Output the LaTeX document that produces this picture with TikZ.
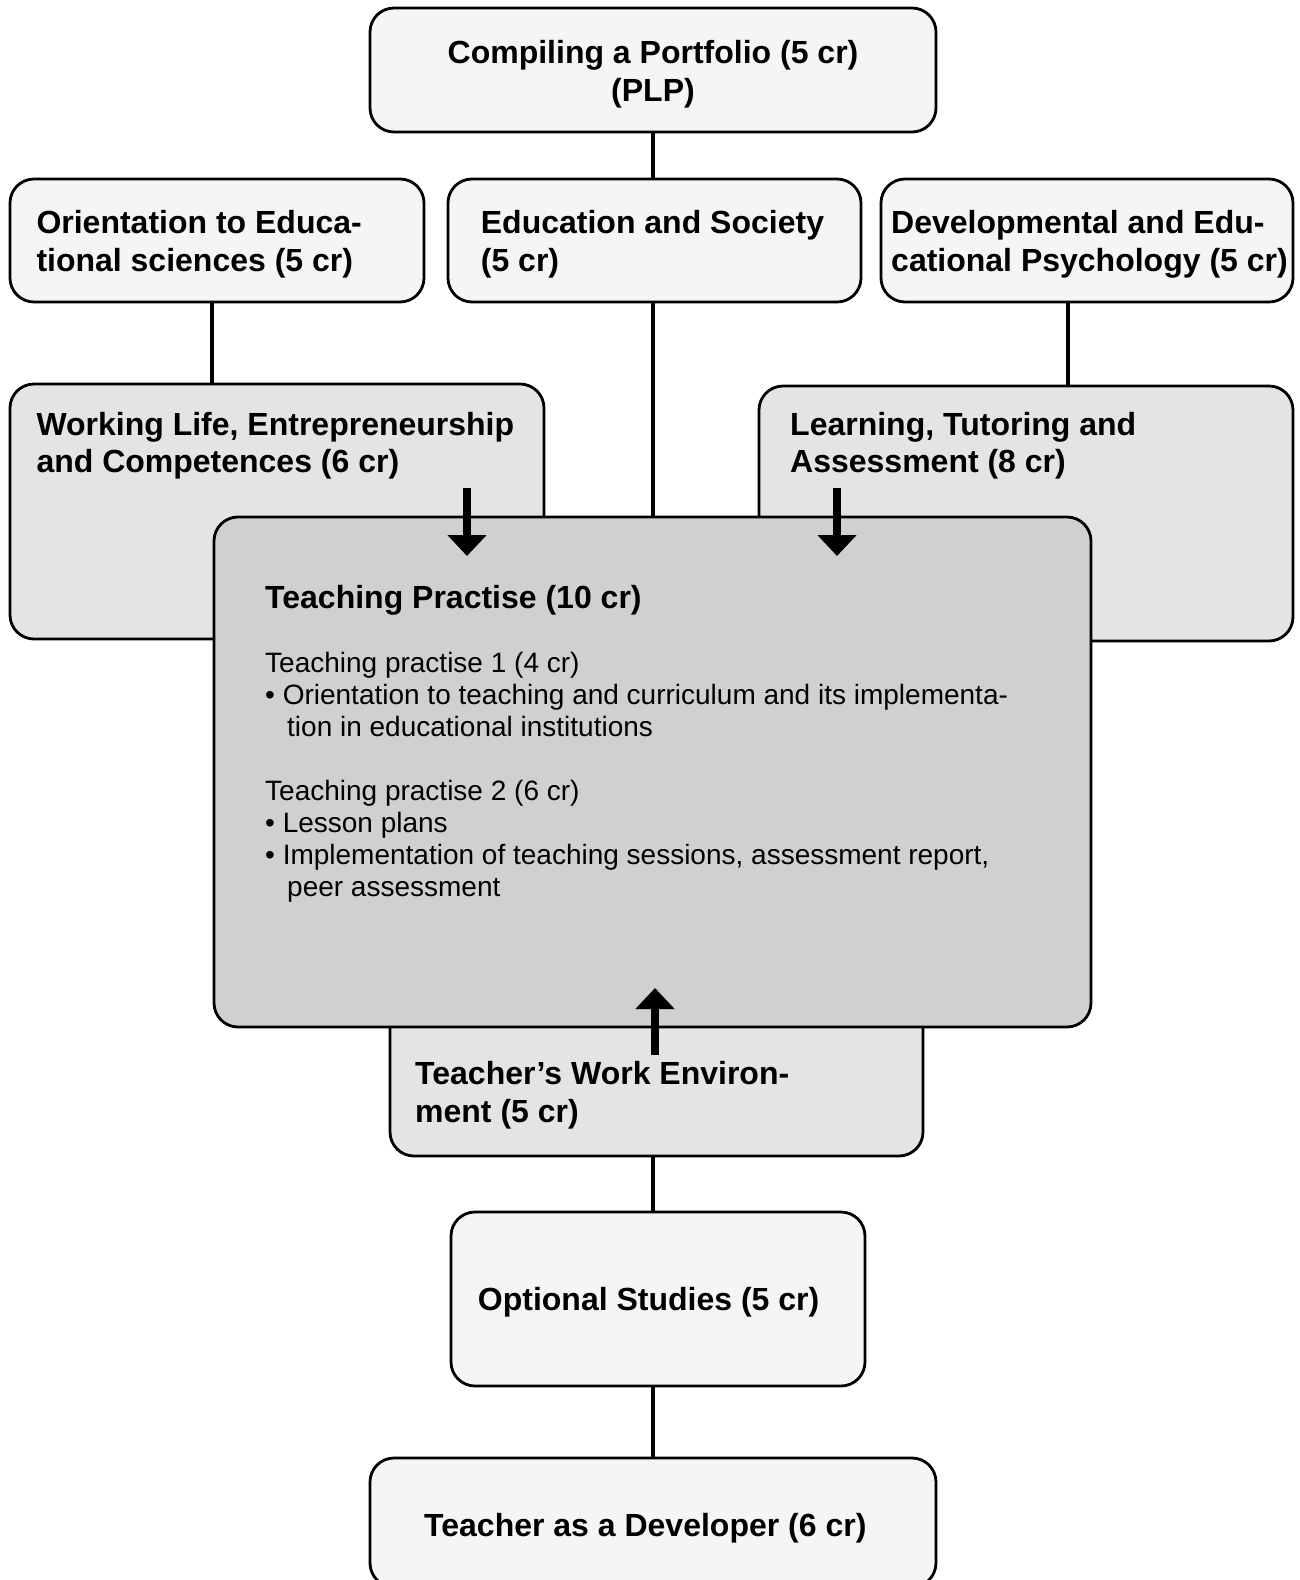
\documentclass[tikz,border=0pt]{standalone}
\usepackage{fontspec}
\setmainfont{Liberation Sans}
\usetikzlibrary{arrows.meta}
\definecolor{paleFill}{HTML}{F4F5F5}
\definecolor{midFill}{HTML}{E3E4E6}
\definecolor{coreFill}{HTML}{CFD0D2}

\begin{document}
\begin{tikzpicture}[x=1pt,y=-1pt,
  box/.style={draw=black, line width=2.8pt, rounded corners=24pt, inner sep=0pt, outer sep=0pt},
  course/.style={box, fill=paleFill},
  module/.style={box, fill=midFill},
  core/.style={box, fill=coreFill},
  link/.style={line width=4.5pt},
  flow/.style={line width=7.5pt, -{Triangle[width=38pt,length=21pt]}},
  headtxt/.style={anchor=base west, inner sep=0pt, font=\fontsize{32}{37}\selectfont\bfseries},
  headmid/.style={headtxt, anchor=base},
  bodytxt/.style={anchor=base west, inner sep=0pt, font=\fontsize{28}{32}\selectfont},
]
\useasboundingbox[fill=white] (0,0) rectangle (1300,1580);
\clip (0,0) rectangle (1300,1580);

% ---- upper row of courses
\node[course, minimum width=566pt, minimum height=124pt] (plp) at (653,70) {};
\node[course, minimum width=414pt, minimum height=123pt] (orient) at (217,240.5) {};
\node[course, minimum width=413pt, minimum height=123pt] (society) at (654.5,240.5) {};
\node[course, minimum width=412pt, minimum height=123pt] (devpsy) at (1087,240.5) {};

% ---- modules around the teaching practise
\node[module, minimum width=534pt, minimum height=255pt] (wl) at (277,511.5) {};
\node[module, minimum width=534pt, minimum height=255pt] (lta) at (1026,513.5) {};
\node[module, minimum width=533pt, minimum height=156pt] (twe) at (656.5,1078) {};

% ---- lower courses (the last one runs past the lower page edge)
\node[course, minimum width=414pt, minimum height=174pt] (opt) at (658,1299) {};
\node[course, minimum width=566pt, minimum height=129pt] (dev) at (653,1522.5) {};

% ---- connectors
\coordinate (tpjoin) at (653,517);
\draw[link] (plp.south) -- (plp.south |- society.north);
\draw[link] ([xshift=-5pt]orient.south) -- ([xshift=-5pt]orient.south |- wl.north);
\draw[link] ([xshift=-19pt]devpsy.south) -- ([xshift=-19pt]devpsy.south |- lta.north);
\draw[link] (society.south -| plp.south) -- (tpjoin);
\draw[link] (twe.south -| plp.south) -- (opt.north -| plp.south);
\draw[link] (opt.south -| plp.south) -- (dev.north -| plp.south);

% ---- central box
\node[core, minimum width=877pt, minimum height=510pt] (tp) at (652.5,772) {};

% ---- arrows into the teaching practise
\coordinate (wlfrom) at (467,488);
\coordinate (wlto) at (467,556);
\coordinate (ltafrom) at (837,488);
\coordinate (ltato) at (837,556);
\coordinate (twefrom) at (655,1055);
\coordinate (tweto) at (655,988);
\draw[flow] (wlfrom) -- (wlto);
\draw[flow] (ltafrom) -- (ltato);
\draw[flow] (twefrom) -- (tweto);

% ---- labels
\node[headmid] (plpA) at (653,63.5) {Compiling a Portfolio (5 cr)};
\node[headmid] (plpB) at (653,101) {(PLP)};
\node[headtxt] (orientA) at (36.3,233.7) {Orientation to Educa-};
\node[headtxt] (orientB) at (36.3,271) {tional sciences (5 cr)};
\node[headtxt] (societyA) at (480.7,233.7) {Education and Society};
\node[headtxt] (societyB) at (480.7,271) {(5 cr)};
\node[headtxt] (devpsyA) at (891,233.7) {Developmental and Edu-};
\node[headtxt] (devpsyB) at (891,271) {cational Psychology (5 cr)};
\node[headtxt] (wlA) at (36.3,435) {Working Life, Entrepreneurship};
\node[headtxt] (wlB) at (36.3,472.5) {and Competences (6 cr)};
\node[headtxt] (ltaA) at (790,435) {Learning, Tutoring and};
\node[headtxt] (ltaB) at (790,472.5) {Assessment (8 cr)};
\node[headtxt] (tpA) at (265,608.6) {Teaching Practise (10 cr)};
\node[bodytxt] (tp1) at (265,672) {Teaching practise 1 (4 cr)};
\node[bodytxt] (tp1a) at (265,704) {• Orientation to teaching and curriculum and its implementa-};
\node[bodytxt] (tp1b) at (287,736) {tion in educational institutions};
\node[bodytxt] (tp2) at (265,800.5) {Teaching practise 2 (6 cr)};
\node[bodytxt] (tp2a) at (265,832.5) {• Lesson plans};
\node[bodytxt] (tp2b) at (265,864.5) {• Implementation of teaching sessions, assessment report,};
\node[bodytxt] (tp2c) at (287,896.5) {peer assessment};
\node[headtxt] (tweA) at (415,1084) {Teacher’s Work Environ-};
\node[headtxt] (tweB) at (415,1122.6) {ment (5 cr)};
\node[headtxt] (optA) at (477.7,1310) {Optional Studies (5 cr)};
\node[headtxt] (devA) at (424,1536) {Teacher as a Developer (6 cr)};
\end{tikzpicture}
\end{document}
